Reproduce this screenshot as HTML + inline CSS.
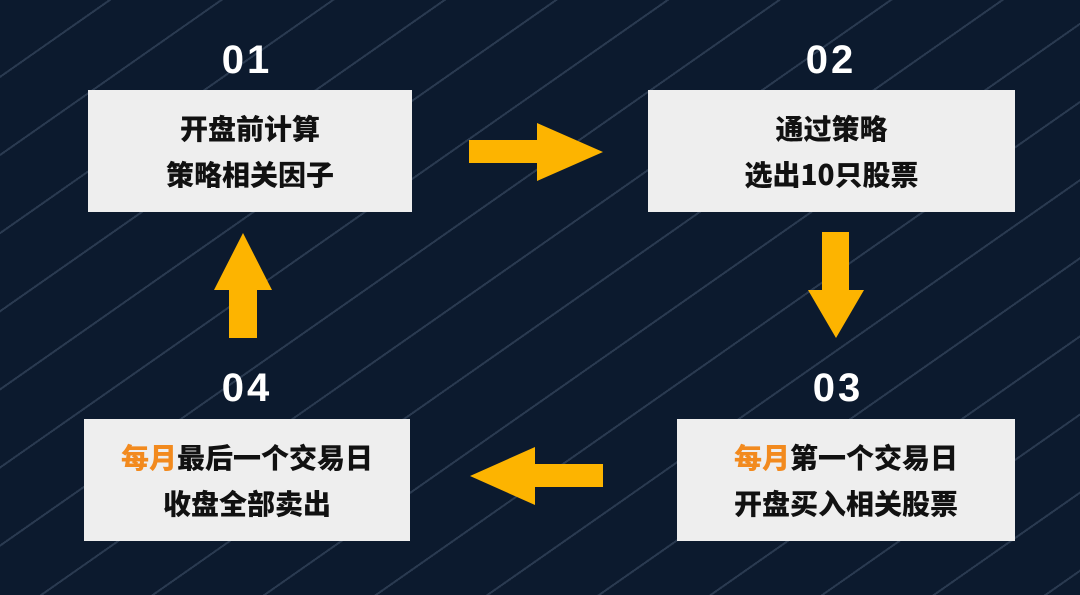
<!DOCTYPE html>
<html><head><meta charset="utf-8"><style>
html,body{margin:0;padding:0}
body{width:1080px;height:595px;position:relative;overflow:hidden;background:#0c1a2e;
background-image:repeating-linear-gradient(145deg,transparent 0 62px,rgba(120,140,170,.28) 62px 64px);
font-family:"Liberation Sans","Noto Sans CJK SC",sans-serif;}
.box{position:absolute;background:#eeeeee;display:flex;flex-direction:column;justify-content:center;align-items:center;font-weight:900;font-size:28px;color:#111;line-height:46px;font-family:"Noto Sans CJK SC",sans-serif;}
.num{position:absolute;color:#fff;font-weight:bold;font-size:40px;width:120px;text-align:center;margin-left:-60px;letter-spacing:3px}
.o{color:#f28a1e}
svg{position:absolute;left:0;top:0}
</style></head><body>
<div class="num" style="left:247px;top:38px">01</div>
<div class="num" style="left:831px;top:38px">02</div>
<div class="num" style="left:838px;top:366px">03</div>
<div class="num" style="left:247px;top:366px">04</div>
<div class="box" style="left:88px;top:90px;width:324px;height:122px"><div>开盘前计算</div><div>策略相关因子</div></div>
<div class="box" style="left:648px;top:90px;width:367px;height:122px"><div>通过策略</div><div>选出10只股票</div></div>
<div class="box" style="left:677px;top:419px;width:338px;height:122px"><div><span class="o">每月</span>第一个交易日</div><div>开盘买入相关股票</div></div>
<div class="box" style="left:84px;top:419px;width:326px;height:122px"><div><span class="o">每月</span>最后一个交易日</div><div>收盘全部卖出</div></div>
<svg width="1080" height="595">
<g fill="#fdb400">
<polygon points="469,140 537,140 537,123 603,152 537,181 537,163 469,163"/>
<polygon points="822,232 849,232 849,290 864,290 836,338 808,290 822,290"/>
<polygon points="603,464 535,464 535,447 470,476 535,505 535,487 603,487"/>
<polygon points="229,338 257,338 257,290 272,290 243,233 214,290 229,290"/>
</g></svg>
</body></html>
